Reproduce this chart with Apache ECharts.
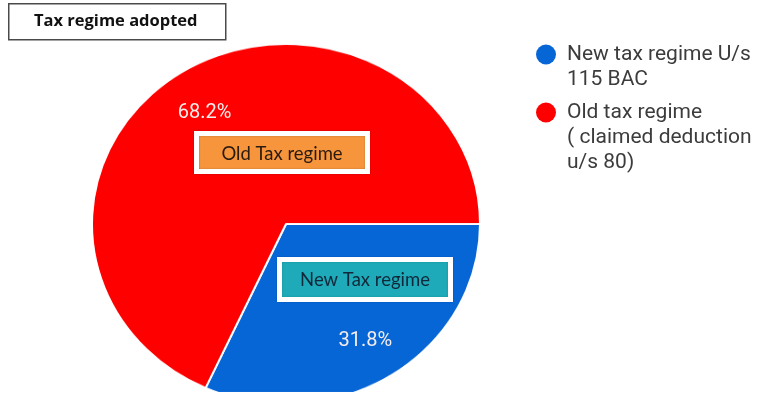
<!DOCTYPE html>
<html>
<head>
<meta charset="utf-8">
<script src="https://cdn.jsdelivr.net/npm/echarts@6/dist/echarts.min.js"></script>
<style>
  html, body { margin: 0; padding: 0; background: #ffffff; }
  #wrap { position: relative; width: 760px; height: 405px; overflow: hidden; }
  #pie, #overlay { position: absolute; left: 0; top: 0; width: 760px; height: 405px; }
  /* the pie disc is drawn slightly flattened */
  #pie { transform: scaleY(0.928); transform-origin: 0 224px; }
</style>
</head>
<body>
<div id="wrap">
  <div id="pie"></div>
  <div id="overlay"></div>
</div>
<script>
// Share of taxpayers by regime (percent)
const categories = ['New tax regime U/s\n115 BAC', 'Old tax regime\n( claimed deduction\nu/s 80)'];
const shares = [31.8, 68.2];
const colors = ['#0766d6', '#fe0000'];
const titleText = 'Tax regime adopted';
const boxTexts = ['New Tax regime', 'Old Tax regime'];

const pieData = categories.map((name, i) => ({ name: name, value: shares[i], itemStyle: { color: colors[i] } }));

const center = [286, 224];
const radius = 194;

// Coloured disc
const pieChart = echarts.init(document.getElementById('pie'), null, { renderer: 'canvas' });
pieChart.setOption({
  animation: false,
  series: [{
    type: 'pie',
    center: center,
    radius: radius,
    startAngle: 0,
    clockwise: true,
    avoidLabelOverlap: false,
    label: { show: false },
    labelLine: { show: false },
    itemStyle: { borderColor: '#ffffff', borderWidth: 2 },
    data: pieData
  }]
});

// Legend text is padded with blank lines above so the marker sits beside the first line
const firstLineFormatter = name => {
  const extra = name.split('\n').length - 1;
  return '\n'.repeat(extra) + name;
};

// Title, legend, percentage labels and callout boxes
const overlay = echarts.init(document.getElementById('overlay'), null, { renderer: 'canvas' });
const legendText = { fontFamily: 'Roboto', fontSize: 21, lineHeight: 25, color: '#3c3c3c', padding: [0, 0, 0, 6] };
overlay.setOption({
  animation: false,
  legend: [
    {
      data: [{ name: categories[0], itemStyle: { color: colors[0], opacity: 1 } }],
      orient: 'vertical', left: 536, top: 17, padding: 0,
      icon: 'circle', itemWidth: 20, itemHeight: 20,
      selectedMode: false, formatter: firstLineFormatter, textStyle: legendText
    },
    {
      data: [{ name: categories[1], itemStyle: { color: colors[1], opacity: 1 } }],
      orient: 'vertical', left: 536, top: 50, padding: 0,
      icon: 'circle', itemWidth: 20, itemHeight: 20,
      selectedMode: false, formatter: firstLineFormatter, textStyle: legendText
    }
  ],
  series: [{
    type: 'pie',
    center: center,
    radius: [86, radius],
    startAngle: 0,
    clockwise: true,
    avoidLabelOverlap: false,
    silent: true,
    itemStyle: { color: 'rgba(0,0,0,0)' },
    label: {
      show: true,
      position: 'inside',
      formatter: p => p.value.toFixed(1) + '%',
      fontFamily: 'Roboto',
      fontSize: 20,
      color: '#f6ecea'
    },
    labelLine: { show: false },
    data: categories.map((name, i) => ({
      name: name,
      value: shares[i],
      label: { offset: i === 0 ? [2, -3] : [-4, 9] }
    }))
  }],
  graphic: [
    {
      type: 'group', left: 8, top: 3,
      children: [
        { type: 'rect', shape: { x: 0, y: 0, width: 217, height: 36 }, style: { fill: '#ffffff', stroke: '#4a4a4a', lineWidth: 1.5 } },
        { type: 'text', style: { text: titleText, x: 107, y: 18, align: 'center', verticalAlign: 'middle', font: 'bold 16.5px "Open Sans"', fill: '#111111' } }
      ]
    },
    {
      type: 'group', left: 194, top: 131,
      children: [
        { type: 'rect', shape: { x: 2.5, y: 2.5, width: 171, height: 38 }, style: { fill: '#f7953c', stroke: '#ffffff', lineWidth: 5, shadowColor: 'rgba(0,0,0,0.25)', shadowBlur: 2 } },
        { type: 'text', style: { text: boxTexts[1], x: 88, y: 23, align: 'center', verticalAlign: 'middle', font: '18.5px Lato', fill: '#2a1a10' } }
      ]
    },
    {
      type: 'group', left: 277, top: 257,
      children: [
        { type: 'rect', shape: { x: 2.5, y: 2.5, width: 171, height: 40 }, style: { fill: '#1eaab8', stroke: '#ffffff', lineWidth: 5, shadowColor: 'rgba(0,0,0,0.2)', shadowBlur: 2 } },
        { type: 'text', style: { text: boxTexts[0], x: 88, y: 23, align: 'center', verticalAlign: 'middle', font: '18.5px Lato', fill: '#10283a' } }
      ]
    }
  ]
});
</script>
</body>
</html>
